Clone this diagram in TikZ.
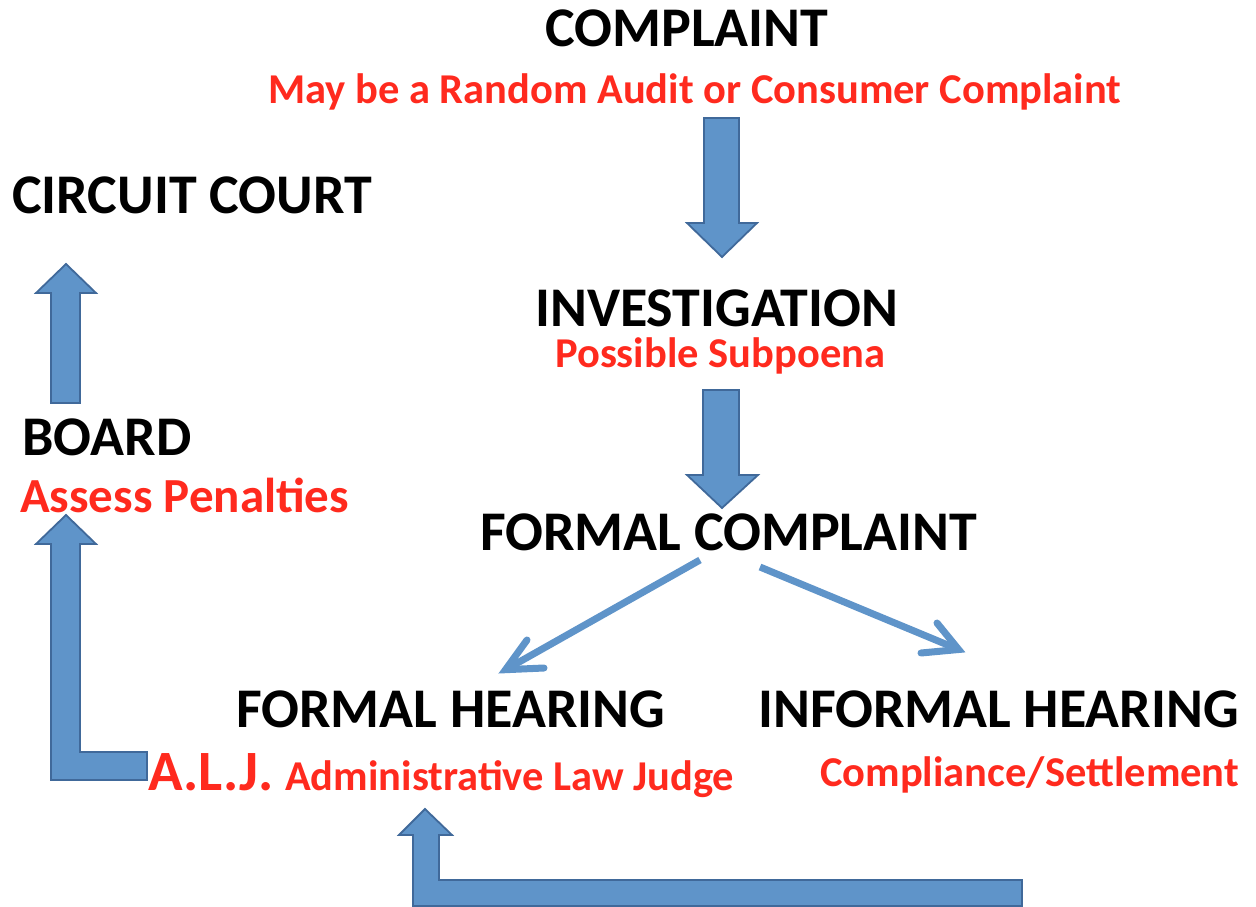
\documentclass[tikz,border=0pt]{standalone}
\usepackage{fontspec}
\setmainfont{Carlito}
\definecolor{blk}{HTML}{5F94C9}
\definecolor{blkline}{HTML}{40699A}
\definecolor{txtred}{HTML}{FF2A1E}
\tikzset{
 blockarrow/.style={fill=blk, draw=blkline, line width=1.8pt, line join=miter},
 title/.style={inner sep=0, font=\bfseries\fontsize{56}{56}\selectfont, anchor=base west, text depth=0pt},
 sub/.style={inner sep=0, font=\bfseries\fontsize{42.5}{42.5}\selectfont, text=txtred, anchor=base west, text height=0.62em},
 thinshaft/.style={draw=blk, line width=7pt},
 thinhead/.style={draw=blk, line width=7pt, line join=miter, line cap=round}
}
\begin{document}
\begin{tikzpicture}[x=1pt,y=-1pt]
\useasboundingbox (0,0) rectangle (1256,907);
% texts
\node[title] (complaint) at (545,47) {COMPLAINT};
\node[sub] (audit) at (268,103) {May be a Random Audit or Consumer Complaint};
\node[title] (circuit) at (12,213) {CIRCUIT COURT};
\node[title] (invest) at (535,326) {INVESTIGATION};
\node[sub] (subp) at (555,367) {Possible Subpoena};
\node[title] (board) at (22,455) {BOARD};
\node[sub, font=\bfseries\fontsize{49}{49}\selectfont] (assess) at (20,512) {Assess Penalties};
\node[title] (fc) at (480,550) {FORMAL COMPLAINT};
\node[title] (fh) at (236,727) {FORMAL HEARING};
\node[title] (ih) at (758,727) {INFORMAL HEARING};
\node[sub, font=\bfseries\fontsize{57}{57}\selectfont] (alj) at (148,790) {A.L.J.};
\node[sub] (aljtext) at (285,790) {Administrative Law Judge};
\node[sub] (settle) at (820,786) {Compliance/Settlement};
% block arrows
\draw[blockarrow] (704,118) -- (739,118) -- (739,223) -- (757,223) -- (722,257) -- (687,223) -- (704,223) -- cycle;
\draw[blockarrow] (703,390) -- (739,390) -- (739,475) -- (758,475) -- (722,508) -- (687,475) -- (703,475) -- cycle;
\draw[blockarrow] (51,403) -- (80,403) -- (80,293) -- (96,293) -- (66,264) -- (36,293) -- (51,293) -- cycle;
\draw[blockarrow] (147,752) -- (80,752) -- (80,544) -- (96,544) -- (66,515) -- (36,544) -- (51,544) -- (51,780) -- (147,780) -- cycle;
\draw[blockarrow] (1022,880) -- (439,880) -- (439,835) -- (452,835) -- (425,809) -- (399,835) -- (413,835) -- (413,906) -- (1022,906) -- cycle;
% thin arrows
\coordinate (l0) at (700,560);
\coordinate (l1) at (505.5,669.7);
\coordinate (la) at (527,640);
\coordinate (lb) at (544,668);
\draw[thinshaft] (l0) -- (l1);
\draw[thinhead] (la) -- (l1) -- (lb);
\coordinate (r0) at (760,567);
\coordinate (r1) at (958.6,649.5);
\coordinate (ra) at (937,623);
\coordinate (rb) at (921,653);
\draw[thinshaft] (r0) -- (r1);
\draw[thinhead] (ra) -- (r1) -- (rb);
\end{tikzpicture}
\end{document}
